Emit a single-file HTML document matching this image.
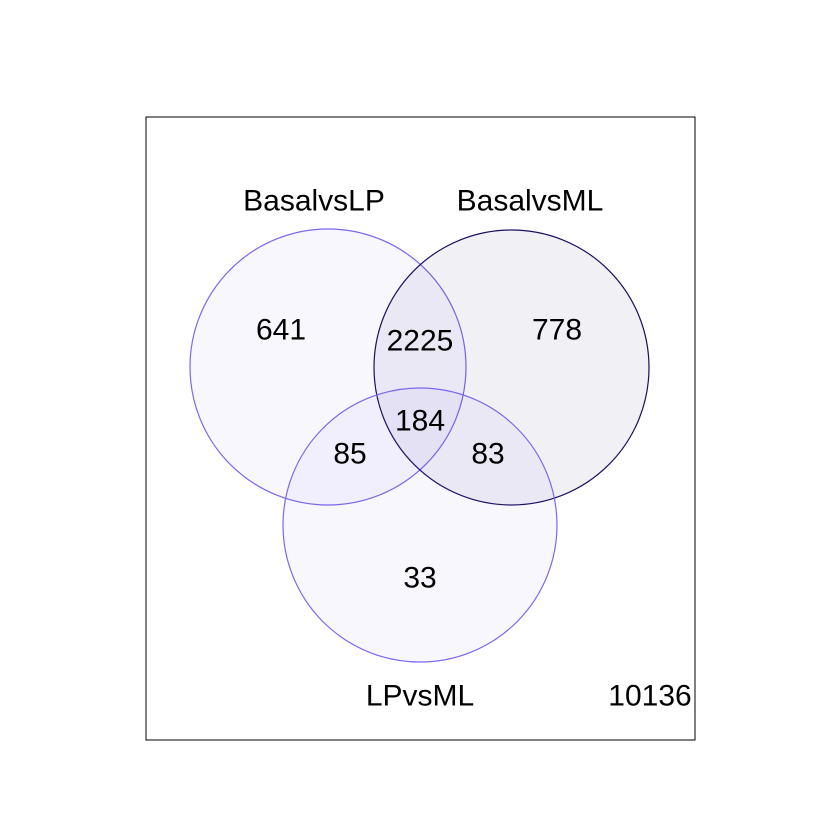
<!DOCTYPE html>
<html><head><meta charset="utf-8"><style>
html,body{margin:0;padding:0;background:#fff}
svg{display:block}
text{font-family:"Liberation Sans",Arial,sans-serif;font-size:30px;fill:#000}
</style></head><body>
<svg id="chart" width="840" height="840" viewBox="0 0 840 840">
<rect x="146" y="117" width="549" height="623" fill="none" stroke="#000" stroke-width="1"/>
</svg>
<script>
const setNames = ["BasalvsLP","BasalvsML","LPvsML"];
const regionLabels = ["641","2225","778","184","85","83","33","10136"];
const regionCounts = [641,2225,778,184,85,83,33,10136];
const svg = document.getElementById('chart');
const NS = 'http://www.w3.org/2000/svg';
const circles = [
 {cx:328,cy:367,r:138,stroke:'#7b68ee',fill:'rgba(123,104,238,0.055)',lx:314,ly:201},
 {cx:511.5,cy:367.5,r:137.5,stroke:'#1a1060',fill:'rgba(25,25,112,0.065)',lx:530,ly:201},
 {cx:420,cy:525,r:137,stroke:'#7b68ee',fill:'rgba(123,104,238,0.055)',lx:420,ly:696}
];
circles.forEach((c,i)=>{
  const e=document.createElementNS(NS,'circle');
  e.setAttribute('cx',c.cx);e.setAttribute('cy',c.cy);e.setAttribute('r',c.r);
  e.setAttribute('fill',c.fill);e.setAttribute('stroke',c.stroke);e.setAttribute('stroke-width','1.2');
  
  
  svg.appendChild(e);
});
circles.forEach((c,i)=>{
  const t=document.createElementNS(NS,'text');
  t.setAttribute('x',c.lx);t.setAttribute('y',c.ly);t.setAttribute('text-anchor','middle');
  t.setAttribute('dominant-baseline','central');
  t.textContent=setNames[i];
  
  
  svg.appendChild(t);
});
const pos=[[281,330],[420,341],[557,330],[420,421],[350,454],[488,454],[420,578],[650,696]];
regionCounts.forEach((v,i)=>{
  const t=document.createElementNS(NS,'text');
  t.setAttribute('x',pos[i][0]);t.setAttribute('y',pos[i][1]);t.setAttribute('text-anchor','middle');
  t.setAttribute('dominant-baseline','central');
  t.textContent=regionLabels[i];
  
  
  svg.appendChild(t);
});
</script>
</body></html>
